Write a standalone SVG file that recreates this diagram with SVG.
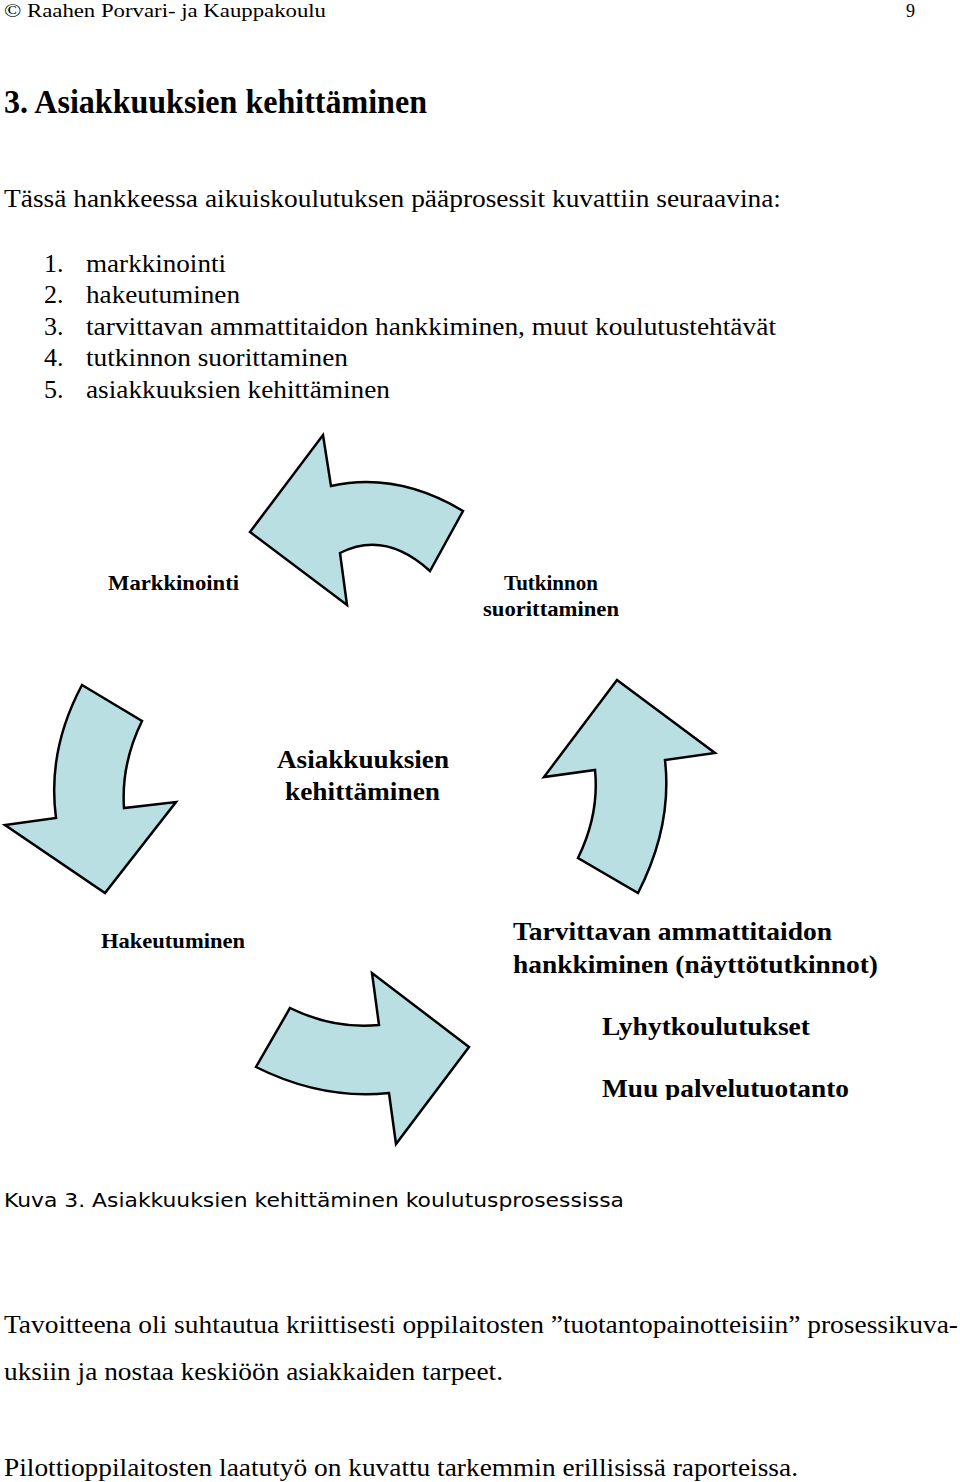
<svg xmlns="http://www.w3.org/2000/svg" width="960" height="1482" viewBox="0 0 960 1482">
<style>
.serif{font-family:"Liberation Serif","Times New Roman",serif;fill:#000}
.body{font-size:26px}
.b{font-weight:bold}
.lbl{font-size:21px;font-weight:bold}
.big{font-size:26px;font-weight:bold}
.sans{font-family:"DejaVu Sans",Verdana,sans-serif;font-size:20px;fill:#000}
.arrow{fill:#b9dfe3;stroke:#000;stroke-width:2.5;stroke-linejoin:miter}
</style>
<defs>
<clipPath id="clipMuu"><rect x="0" y="1000" width="960" height="100"/></clipPath>
</defs>
<rect width="960" height="1482" fill="#fff"/>
<g id="header">
<text class="serif" x="4" y="17" font-size="18" textLength="322" lengthAdjust="spacingAndGlyphs">© Raahen Porvari- ja Kauppakoulu</text>
<text class="serif" x="906" y="17" font-size="18">9</text>
</g>
<g id="title">
<text class="serif b" x="4" y="113" font-size="33" textLength="423" lengthAdjust="spacingAndGlyphs">3. Asiakkuuksien kehittäminen</text>
</g>
<g id="intro">
<text class="serif body" x="4" y="207" textLength="777" lengthAdjust="spacingAndGlyphs">Tässä hankkeessa aikuiskoulutuksen pääprosessit kuvattiin seuraavina:</text>
<text class="serif body" x="44" y="272">1.</text><text class="serif body" x="86" y="272" textLength="140" lengthAdjust="spacingAndGlyphs">markkinointi</text>
<text class="serif body" x="44" y="303">2.</text><text class="serif body" x="86" y="303" textLength="154" lengthAdjust="spacingAndGlyphs">hakeutuminen</text>
<text class="serif body" x="44" y="335">3.</text><text class="serif body" x="86" y="335" textLength="690" lengthAdjust="spacingAndGlyphs">tarvittavan ammattitaidon hankkiminen, muut koulutustehtävät</text>
<text class="serif body" x="44" y="366">4.</text><text class="serif body" x="86" y="366" textLength="262" lengthAdjust="spacingAndGlyphs">tutkinnon suorittaminen</text>
<text class="serif body" x="44" y="398">5.</text><text class="serif body" x="86" y="398" textLength="304" lengthAdjust="spacingAndGlyphs">asiakkuuksien kehittäminen</text>
</g>
<g id="connectors">
<path id="arrow-top" class="arrow" d="M250,532 L323,435 L331,486 Q397,471.5 463,511 L430,571 Q385,530 340,553 L347,605 Z"/>
<path id="arrow-left" class="arrow" d="M82,685 L142,721 Q121,764 124,808 L176,802 L105,893 L5,825 L56,818 Q47,750.5 82,685 Z"/>
<path id="arrow-right" class="arrow" d="M617,680 L715,753 L665,760 Q672.5,826 638,893 L578,858 Q599.5,814 595,770 L544,777 Z"/>
<path id="arrow-bottom" class="arrow" d="M290,1008 Q334,1029.5 379,1025 L372,973 L469,1047 L396,1144 L389,1093 Q322,1100 256,1067 Z"/>
</g>
<g id="node-markkinointi">
<text class="serif lbl" x="108" y="590" textLength="131" lengthAdjust="spacingAndGlyphs">Markkinointi</text>
</g>
<g id="node-tutkinnon">
<text class="serif lbl" x="551" y="590" text-anchor="middle">Tutkinnon</text>
<text class="serif lbl" x="483" y="616" textLength="136" lengthAdjust="spacingAndGlyphs">suorittaminen</text>
</g>
<g id="node-asiakkuuksien">
<text class="serif big" x="277" y="768" textLength="172" lengthAdjust="spacingAndGlyphs">Asiakkuuksien</text>
<text class="serif big" x="285" y="800" textLength="155" lengthAdjust="spacingAndGlyphs">kehittäminen</text>
</g>
<g id="node-hakeutuminen">
<text class="serif lbl" x="101" y="948" textLength="144" lengthAdjust="spacingAndGlyphs">Hakeutuminen</text>
</g>
<g id="node-tarvittavan">
<text class="serif big" x="513" y="940" textLength="319" lengthAdjust="spacingAndGlyphs">Tarvittavan ammattitaidon</text>
<text class="serif big" x="513" y="973" textLength="365" lengthAdjust="spacingAndGlyphs">hankkiminen (näyttötutkinnot)</text>
<text class="serif big" x="602" y="1035" textLength="208" lengthAdjust="spacingAndGlyphs">Lyhytkoulutukset</text>
<text class="serif big" x="602" y="1097" textLength="247" lengthAdjust="spacingAndGlyphs" clip-path="url(#clipMuu)">Muu palvelutuotanto</text>
</g>
<g id="caption">
<text class="sans" x="4" y="1207" textLength="620" lengthAdjust="spacingAndGlyphs">Kuva 3. Asiakkuuksien kehittäminen koulutusprosessissa</text>
</g>
<g id="paragraphs">
<text class="serif body" x="4" y="1333" textLength="954" lengthAdjust="spacingAndGlyphs">Tavoitteena oli suhtautua kriittisesti oppilaitosten ”tuotantopainotteisiin” prosessikuva-</text>
<text class="serif body" x="4" y="1380" textLength="499" lengthAdjust="spacingAndGlyphs">uksiin ja nostaa keskiöön asiakkaiden tarpeet.</text>
<text class="serif body" x="4" y="1476" textLength="794" lengthAdjust="spacingAndGlyphs">Pilottioppilaitosten laatutyö on kuvattu tarkemmin erillisissä raporteissa.</text>
</g>
</svg>
